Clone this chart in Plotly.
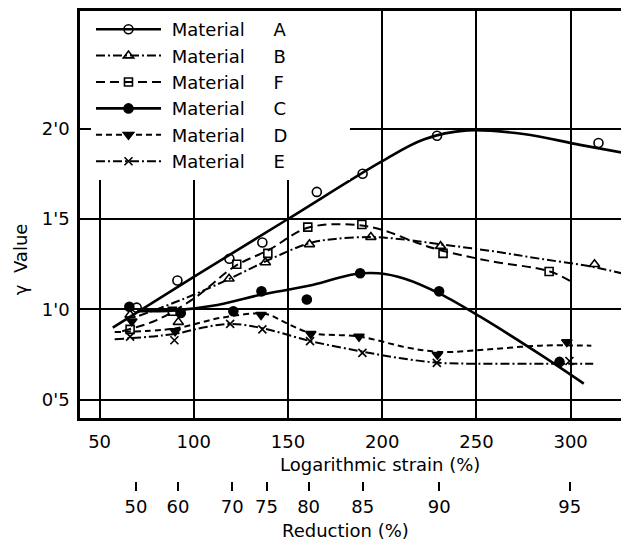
import numpy as np
import plotly.graph_objects as go

# ---------------- data ----------------
strain_ticks = [50, 100, 150, 200, 250, 300]
gamma_ticks = [0.5, 1.0, 1.5, 2.0]
gamma_ticktext = ["0'5", "1'0", "1'5", "2'0"]
reduction_ticks = [50, 60, 70, 75, 80, 85, 90, 95]

materials = ["A", "B", "F", "C", "D", "E"]

# measured points
A_x = [69.7, 91.3, 118.9, 136.4, 165.3, 189.6, 229.1, 314.8]
A_y = [1.01, 1.16, 1.28, 1.37, 1.65, 1.75, 1.96, 1.92]
B_x = [66.2, 91.8, 118.7, 138.0, 161.4, 194.0, 231.0, 312.7]
B_y = [0.97, 0.93, 1.17, 1.26, 1.36, 1.40, 1.35, 1.25]
F_x = [66.2, 88.6, 122.8, 139.3, 160.5, 189.2, 232.3, 288.6]
F_y = [0.89, 0.99, 1.25, 1.31, 1.455, 1.47, 1.31, 1.21]
C_x = [65.8, 93.1, 121.0, 135.9, 160.0, 188.3, 230.2, 294.1]
C_y = [1.015, 0.98, 0.99, 1.10, 1.055, 1.20, 1.10, 0.71]
D_x = [67.1, 90.1, 135.7, 162.1, 187.7, 229.3, 298.0]
D_y = [0.935, 0.88, 0.97, 0.865, 0.85, 0.75, 0.82]
E_x = [66.2, 89.7, 119.3, 136.4, 161.7, 189.5, 229.0, 299.4]
E_y = [0.85, 0.83, 0.92, 0.89, 0.825, 0.76, 0.705, 0.715]

# hand-drawn fitted curves
A_cx = [57, 100, 150, 200, 222, 245, 275, 305, 331]
A_cy = [0.90, 1.18, 1.50, 1.82, 1.94, 1.99, 1.97, 1.91, 1.86]
B_cx = [71, 95, 118, 139, 161, 175, 195, 213, 231, 260, 284, 312, 331]
B_cy = [0.965, 1.06, 1.165, 1.27, 1.365, 1.39, 1.40, 1.385, 1.36, 1.32, 1.28, 1.235, 1.19]
F_cx = [62, 80, 100, 122, 140, 160, 183, 200, 218, 230, 256, 289, 301]
F_cy = [0.88, 0.94, 1.06, 1.24, 1.33, 1.45, 1.47, 1.44, 1.37, 1.33, 1.27, 1.21, 1.15]
C_cx = [70, 90, 110, 135, 163, 185, 198, 212, 231, 252, 284, 307]
C_cy = [0.99, 0.995, 1.02, 1.08, 1.135, 1.195, 1.20, 1.17, 1.085, 0.96, 0.75, 0.59]
D_cx = [58, 90, 115, 138, 150, 162, 188, 213, 231, 257, 284, 311]
D_cy = [0.875, 0.895, 0.955, 0.975, 0.92, 0.87, 0.85, 0.79, 0.765, 0.78, 0.80, 0.80]
E_cx = [58, 90, 105, 120, 137, 162, 188, 210, 230, 250, 280, 312]
E_cy = [0.835, 0.865, 0.90, 0.92, 0.895, 0.825, 0.77, 0.73, 0.705, 0.70, 0.70, 0.70]

points = {"A": (A_x, A_y), "B": (B_x, B_y), "F": (F_x, F_y),
          "C": (C_x, C_y), "D": (D_x, D_y), "E": (E_x, E_y)}
curves = {"A": (A_cx, A_cy), "B": (B_cx, B_cy), "F": (F_cx, F_cy),
          "C": (C_cx, C_cy), "D": (D_cx, D_cy), "E": (E_cx, E_cy)}

# ---------------- styles ----------------
styles = {
    "A": dict(dash="solid", width=2.6, symbol="circle-open", size=9),
    "B": dict(dash="9px,3px,2px,3px", width=2.0, symbol="triangle-up-open", size=9),
    "F": dict(dash="9px,5px", width=2.0, symbol="square-open", size=8),
    "C": dict(dash="solid", width=2.6, symbol="circle", size=9),
    "D": dict(dash="6px,4px", width=2.0, symbol="triangle-down", size=9),
    "E": dict(dash="9px,3px,2px,3px", width=2.0, symbol="x-thin-open", size=8),
}

FONT = "DejaVu Sans"
NB = "\u00a0"
fig = go.Figure()

for m in materials:
    st = styles[m]
    cx, cy = curves[m]
    px, py = points[m]
    line = dict(color="black", width=st["width"], dash=st["dash"], shape="spline", smoothing=1.0)
    marker = dict(symbol=st["symbol"], size=st["size"], color="black",
                  line=dict(color="black", width=1.6))
    fig.add_trace(go.Scatter(x=cx, y=cy, mode="lines", line=line,
                             showlegend=False, hoverinfo="skip"))
    fig.add_trace(go.Scatter(x=px, y=py, mode="markers", marker=marker,
                             showlegend=False))
    fig.add_trace(go.Scatter(x=[None], y=[None], mode="lines+markers",
                             line=dict(color="black", width=st["width"], dash=st["dash"]),
                             marker=marker,
                             name=NB + "Material" + NB * 5 + m + NB * 10))

# dummy trace for the secondary (reduction) axis
red_vals = [-100.0 * np.log(1 - r / 100.0) for r in reduction_ticks]
fig.add_trace(go.Scatter(x=[None], y=[None], xaxis="x2", showlegend=False, hoverinfo="skip"))

XR = [39.6, 331]
YR = [0.40, 2.65]

# the page body has an 8 px default margin, so the figure is 8 px smaller
fig.update_layout(
    width=621, height=539,
    margin=dict(l=72, r=0, t=3, b=0, autoexpand=False),
    paper_bgcolor="white", plot_bgcolor="white",
    font=dict(family=FONT, size=18, color="black"),
    showlegend=True,
    legend=dict(x=0.02, y=1.0, xanchor="left", yanchor="top",
                bgcolor="white", borderwidth=0, itemwidth=65,
                font=dict(family=FONT, size=18, color="black"),
                tracegroupgap=0, itemclick=False),
    xaxis=dict(range=XR, tickvals=strain_ticks, ticks="inside", ticklen=10, tickwidth=2,
               tickcolor="black", showline=True, linecolor="black", linewidth=2.5,
               mirror="ticks", showgrid=True, gridcolor="black", gridwidth=1.8,
               zeroline=False, ticklabelstandoff=6, domain=[0, 1], automargin=False,
               tickfont=dict(family=FONT, size=18)),
    yaxis=dict(range=YR, tickvals=gamma_ticks, ticktext=gamma_ticktext, ticks="inside",
               ticklen=15, tickwidth=2, tickcolor="black", showline=True,
               linecolor="black", linewidth=2.5, showgrid=True, gridcolor="black",
               gridwidth=1.8, zeroline=False, domain=[0.2407, 1], ticklabelstandoff=4,
               automargin=False, tickfont=dict(family=FONT, size=18)),
    xaxis2=dict(range=XR, overlaying="x", anchor="free", position=0.1231, side="bottom",
                tickvals=red_vals, ticktext=[str(r) for r in reduction_ticks],
                ticks="outside", ticklen=9, tickwidth=1.5, tickcolor="black",
                showline=False, showgrid=False, zeroline=False, automargin=False,
                tickfont=dict(family=FONT, size=18)),
    annotations=[
        dict(text="Logarithmic strain (%)", xref="paper", yref="paper",
             x=0.5464, y=0.153, xanchor="center", yanchor="middle", showarrow=False,
             font=dict(family=FONT, size=18)),
        dict(text="Reduction (%)", xref="paper", yref="paper",
             x=0.4845, y=0.0317, xanchor="center", yanchor="middle", showarrow=False,
             font=dict(family=FONT, size=18)),
        dict(text="γ  Value", xref="paper", yref="paper", textangle=-90,
             x=-0.1093, y=0.537, xanchor="center", yanchor="middle", showarrow=False,
             font=dict(family=FONT, size=18)),
    ],
)

fig.write_html("out.html")
